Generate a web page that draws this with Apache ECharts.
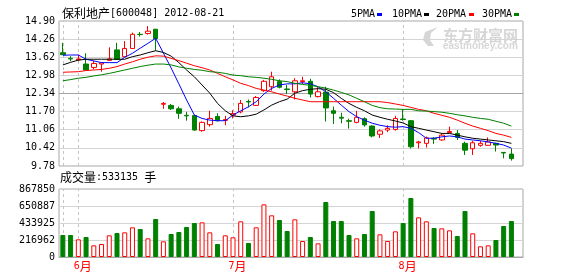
<!DOCTYPE html>
<html><head><meta charset="utf-8">
<script src="https://cdn.jsdelivr.net/npm/echarts@6/dist/echarts.min.js"></script>
<style>html,body{margin:0;padding:0;background:#fff}#c{width:578px;height:276px}</style>
</head><body><div id="c"></div>
<script>
const dates = ['2012-05-30','2012-05-31','2012-06-01','2012-06-04','2012-06-05','2012-06-06','2012-06-07','2012-06-08',
'2012-06-11','2012-06-12','2012-06-13','2012-06-14','2012-06-15','2012-06-18','2012-06-19','2012-06-20','2012-06-21',
'2012-06-25','2012-06-26','2012-06-27','2012-06-28','2012-06-29','2012-07-02','2012-07-03','2012-07-04','2012-07-05','2012-07-06',
'2012-07-09','2012-07-10','2012-07-11','2012-07-12','2012-07-13','2012-07-16','2012-07-17','2012-07-18','2012-07-19','2012-07-20',
'2012-07-23','2012-07-24','2012-07-25','2012-07-26','2012-07-27','2012-07-30','2012-07-31','2012-08-01','2012-08-02','2012-08-03',
'2012-08-06','2012-08-07','2012-08-08','2012-08-09','2012-08-10','2012-08-13','2012-08-14','2012-08-15','2012-08-16','2012-08-17',
'2012-08-20','2012-08-21'];
const opens = [13.78,13.58,13.53,13.38,13.26,13.38,13.51,13.88,13.64,13.93,14.43,14.46,14.61,11.96,11.92,11.80,11.57,11.56,11.03,11.24,
11.53,11.39,11.58,11.69,12.06,11.92,12.44,12.58,12.76,12.50,12.40,12.76,12.77,12.23,12.39,11.73,11.50,11.38,11.32,11.45,
11.19,10.90,11.05,11.07,11.44,11.38,10.60,10.58,10.76,10.70,10.96,10.93,10.58,10.39,10.51,10.51,10.58,10.26,10.20];
const closes = [13.71,13.56,13.56,13.17,13.40,13.42,13.56,13.55,13.93,14.43,14.42,14.54,14.28,11.99,11.80,11.64,11.55,11.05,11.32,11.46,
11.38,11.42,11.63,11.99,12.04,12.20,12.77,12.93,12.56,12.48,12.79,12.79,12.32,12.40,11.83,11.64,11.47,11.36,11.50,11.23,
10.84,11.02,11.11,11.46,11.42,10.46,10.63,10.77,10.73,10.87,11.00,10.79,10.34,10.60,10.58,10.63,10.52,10.24,10.04];
const lows = [13.71,13.48,13.48,13.17,13.19,13.11,13.50,13.55,13.64,13.92,14.35,14.42,13.85,11.80,11.76,11.45,11.38,11.02,10.99,11.17,
11.35,11.22,11.46,11.64,11.85,11.90,12.40,12.44,12.52,12.32,12.13,12.68,12.20,12.20,11.35,11.26,11.29,11.10,11.29,11.17,
10.79,10.77,10.98,11.03,11.38,10.40,10.40,10.43,10.56,10.67,10.93,10.70,10.17,10.17,10.46,10.49,10.29,10.05,9.97];
const highs = [14.13,13.66,13.71,13.76,13.50,13.44,13.97,14.13,14.19,14.49,14.51,14.72,14.61,12.04,11.97,11.88,11.69,11.58,11.35,11.73,
11.64,11.55,11.75,12.11,12.13,12.25,12.82,13.11,12.84,12.64,12.88,12.93,12.86,12.58,12.58,11.88,11.66,11.45,11.73,11.50,
11.22,11.07,11.22,11.55,11.78,11.40,10.67,10.82,10.79,10.93,11.17,11.05,10.64,10.67,10.67,10.79,10.60,10.26,10.40];
const ma5 = [13.69,13.70,13.70,13.55,13.49,13.43,13.43,13.43,13.62,13.76,13.94,14.11,14.29,13.77,13.24,12.68,12.11,11.58,11.46,11.40,
11.38,11.38,11.58,11.73,11.87,12.05,12.32,12.52,12.64,12.68,12.68,12.72,12.68,12.58,12.40,12.17,11.93,11.70,11.52,11.40,
11.29,11.22,11.17,11.15,11.17,11.11,10.96,10.76,10.76,10.81,10.84,10.81,10.73,10.70,10.67,10.63,10.58,10.52,10.41];
const ma10 = [13.35,13.44,13.52,13.55,13.55,13.55,13.55,13.55,13.55,13.64,13.70,13.78,13.85,13.79,13.66,13.43,13.17,12.93,12.64,12.35,
11.99,11.73,11.55,11.52,11.55,11.61,11.76,11.93,12.05,12.14,12.35,12.44,12.49,12.51,12.49,12.37,12.17,11.99,11.85,11.73,
11.58,11.50,11.43,11.37,11.30,11.17,11.11,11.05,10.99,10.93,10.93,10.87,10.81,10.76,10.73,10.70,10.67,10.64,10.58];
const ma20 = [13.09,13.10,13.11,13.15,13.17,13.19,13.23,13.29,13.38,13.46,13.55,13.62,13.67,13.66,13.58,13.50,13.41,13.32,13.25,13.17,
13.05,12.93,12.82,12.70,12.62,12.52,12.46,12.40,12.32,12.25,12.17,12.11,12.05,12.05,12.05,12.05,12.05,12.05,12.05,12.05,
12.05,12.05,12.02,11.97,11.92,11.85,11.78,11.73,11.64,11.57,11.50,11.40,11.29,11.19,11.11,11.03,10.93,10.87,10.79];
const ma30 = [12.79,12.83,12.88,12.91,12.96,13.00,13.05,13.11,13.17,13.23,13.29,13.34,13.38,13.38,13.35,13.28,13.23,13.19,13.16,13.11,
13.09,13.05,12.99,12.97,12.93,12.91,12.88,12.84,12.79,12.76,12.70,12.66,12.63,12.58,12.53,12.46,12.38,12.29,12.17,12.05,
11.92,11.84,11.80,11.79,11.78,11.78,11.73,11.72,11.70,11.68,11.64,11.59,11.55,11.50,11.46,11.43,11.36,11.29,11.19];
const volumes = [280800,280800,225500,255300,148900,165900,276500,306300,314800,378600,357400,238200,485000,200000,293500,319100,382900,
433900,442400,314800,165900,276500,251000,455200,178700,378600,672200,531800,472200,331800,480700,204200,255300,174400,701900,
459500,459500,280800,238200,293500,587100,289300,204200,327600,433900,753000,506200,455200,370100,365900,340300,268000,587100,
302000,136100,148900,217000,395600,459500];
const priceTicks = ['9.78','10.42','11.06','11.70','12.34','12.98','13.62','14.26','14.90'];
const volTicks = ['0','216962','433925','650887','867850'];
const monthIdx = [2,22,44];
const monthLabels = ['6','7','8'];
const dashIdx = [0,2,22,44];
const maNames = ['5PMA','10PMA','20PMA','30PMA'];
const maColors = ['#0000ff','#000000','#ff0000','#008000'];
const stockTitle = ['保利地产','[600048] 2012-08-21'];
const volTitle = ['成交量',':533135 ','手'];

const MONO = 'DejaVu Sans Mono';
const CJK = 'Noto Sans CJK SC';
const RED = '#ff0000', GREEN = '#008000';

const pMin = +priceTicks[0], pMax = +priceTicks[priceTicks.length-1];
const pInt = +((pMax - pMin)/(priceTicks.length-1)).toFixed(4);
const vMax = +volTicks[volTicks.length-1];
const vInt = vMax/(volTicks.length-1);
const cats = dates.concat(['']);

const candleData = dates.map((d,i)=>[opens[i],closes[i],lows[i],highs[i]]);
const volData = volumes.map((v,i)=>{
  const up = closes[i] >= opens[i];
  return {value:v, itemStyle: up ? {color:'#fff',borderColor:RED,borderWidth:1} : {color:GREEN,borderColor:GREEN,borderWidth:1}};
});
const dashLines = dashIdx.map(i=>({xAxis: dates[i], lineStyle:{color:'#c4c4c4',type:[3,3],width:1}}));

const chart = echarts.init(document.getElementById('c'), null, {renderer:'canvas'});
const lineSeries = [ma5,ma10,ma20,ma30].map((arr,k)=>({
  type:'line', name:maNames[k], xAxisIndex:0, yAxisIndex:0, data:arr, showSymbol:false, symbol:'none',
  lineStyle:{color:maColors[k], width:1}, itemStyle:{color:maColors[k]}, z:5, animation:false, silent:true
}));

const legendGraphics = [];
const legPos = [[351,377],[392,424],[436,469],[482,514]];
maNames.forEach((n,k)=>{
  legendGraphics.push({type:'text', x:legPos[k][0], y:14.5, style:{text:n, fill:'#000', font:'10px "'+MONO+'"', verticalAlign:'middle'}});
  legendGraphics.push({type:'rect', shape:{x:legPos[k][1], y:13, width:5, height:3}, style:{fill:maColors[k]}});
});

chart.setOption({
  animation:false,
  backgroundColor:'#fff',
  grid:[
    {left:59, top:21, width:464, height:145, show:true, borderColor:'#a6a6a6', borderWidth:1, backgroundColor:'transparent'},
    {left:59, top:189, width:464, height:68, show:true, borderColor:'#a6a6a6', borderWidth:1, backgroundColor:'transparent'}
  ],
  xAxis:[
    {type:'category', gridIndex:0, data:cats, boundaryGap:true, axisLine:{show:false}, axisTick:{show:false}, axisLabel:{show:false}, splitLine:{show:false}},
    {type:'category', gridIndex:1, data:cats, boundaryGap:true, axisLine:{show:true, lineStyle:{color:'#a6a6a6'}}, axisTick:{show:false}, splitLine:{show:false},
     axisLabel:{show:true, margin:3, interval:(idx)=>monthIdx.includes(idx),
       formatter:(val,idx)=>{const j=monthIdx.indexOf(idx); return j<0?'':'{a|'+monthLabels[j]+'}{c|月}';},
       align:'center', padding:[0,0,0,9],
       rich:{a:{fontFamily:MONO,fontSize:10,color:RED}, c:{fontFamily:CJK,fontSize:12,color:RED}}}}
  ],
  yAxis:[
    {type:'value', gridIndex:0, min:pMin, max:pMax, interval:pInt, axisLine:{show:false}, axisTick:{show:false},
     splitLine:{show:true, lineStyle:{color:'#d4d4d4', width:1}},
     axisLabel:{margin:4, color:'#000', fontFamily:MONO, fontSize:10,
       formatter:(v)=>priceTicks[Math.round((v-pMin)/pInt)] || ''}},
    {type:'value', gridIndex:1, min:0, max:vMax, interval:vInt, axisLine:{show:false}, axisTick:{show:false},
     splitLine:{show:true, lineStyle:{color:'#d4d4d4', width:1}},
     axisLabel:{margin:4, color:'#000', fontFamily:MONO, fontSize:10,
       formatter:(v)=>volTicks[Math.round(v/vInt)] || ''}}
  ],
  series:[
    {type:'candlestick', xAxisIndex:0, yAxisIndex:0, data:candleData, barWidth:5, z:3,
     itemStyle:{color:'#fff', color0:GREEN, borderColor:RED, borderColor0:GREEN, borderWidth:1},
     markLine:{silent:true, symbol:['none','none'], label:{show:false}, animation:false, z:1,
       data: dashLines.concat([{yAxis:(pMin+pMax)/2, lineStyle:{color:'#a6a6a6', type:'solid', width:1}}])}},
    ...lineSeries,
    {type:'bar', xAxisIndex:1, yAxisIndex:1, data:volData, barWidth:5, z:3,
     markLine:{silent:true, symbol:['none','none'], label:{show:false}, animation:false, z:1, data:dashLines}}
  ],
  graphic:[
    {type:'text', x:62, y:13, style:{text:'{c|'+stockTitle[0]+'}{a|'+stockTitle[1]+'}', verticalAlign:'middle',
      rich:{c:{fontFamily:CJK,fontSize:12,fill:'#000'}, a:{fontFamily:MONO,fontSize:10,fill:'#000'}}}},
    {type:'text', x:60, y:177, style:{text:'{c|'+volTitle[0]+'}{a|'+volTitle[1]+'}{c|'+volTitle[2]+'}', verticalAlign:'middle',
      rich:{c:{fontFamily:CJK,fontSize:12,fill:'#000'}, a:{fontFamily:MONO,fontSize:10,fill:'#000'}}}},
    ...legendGraphics,
    {type:'text', x:443, y:35, z:0, style:{text:'东方财富网', fill:'#d6d6d6', font:'bold 15px "'+CJK+'"', verticalAlign:'middle'}},
    {type:'text', x:443, y:46.5, z:0, style:{text:'eastmoney.com', fill:'#d6d6d6', font:'bold 10px "Liberation Sans"', verticalAlign:'middle'}},
    {type:'polygon', z:0, shape:{points:[[428,46],[423,40],[425,32],[438,27],[431,33],[430,40],[434,46]]}, style:{fill:'#d6d6d6'}}
  ]
});
</script></body></html>
